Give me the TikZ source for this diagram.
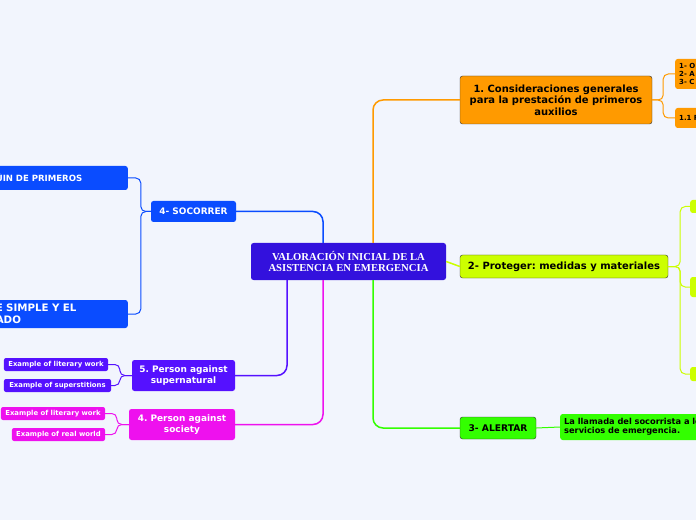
\documentclass[tikz,border=0pt]{standalone}
\usepackage{fontspec}
\setmainfont{DejaVu Sans}
\newfontfamily\rootfont{Liberation Serif}
\usepackage{tikz}
\frenchspacing

\definecolor{bgcol}{HTML}{F2F5FD}
\definecolor{rootcol}{HTML}{3311DD}
\definecolor{orangecol}{HTML}{FF9A00}
\definecolor{limecol}{HTML}{CCFF00}
\definecolor{greencol}{HTML}{33FF00}
\definecolor{bluecol}{HTML}{0A4CFF}
\definecolor{purplecol}{HTML}{5511FF}
\definecolor{magentacol}{HTML}{EE11EE}
\definecolor{edgecol}{HTML}{333333}

\begin{document}
\begin{tikzpicture}[x=1bp, y=-1bp,
		topic/.style={rectangle, rounded corners=2.5bp, inner sep=2bp, align=center, font=\bfseries\fontsize{10}{12}\selectfont},
		leaf/.style={rectangle, rounded corners=2bp, inner sep=1bp, text=white, font=\bfseries\fontsize{6.9}{8}\selectfont},
		branch/.style={line width=1.5bp, rounded corners=10bp},
		twig/.style={line width=1bp, rounded corners=5bp}]
		\useasboundingbox[fill=bgcol] (0,0) rectangle (696,520);
		\clip (0,0) rectangle (696,520);

		% Root
		\node (root) [topic, fill=rootcol, text=white, minimum width=195bp, minimum height=37bp, font=\rootfont\bfseries\fontsize{10.7}{11.8}\selectfont] at (348.5,261.5) {VALORACIÓN INICIAL DE LA\\ASISTENCIA EN EMERGENCIA};

		% Right side
		\node (cons) [topic, draw=edgecol, fill=orangecol, minimum width=192bp, minimum height=48bp, text width=184bp, font=\bfseries\fontsize{10}{11.5}\selectfont] at (556,100) {1. Consideraciones generales\\para la prestación de primeros\\auxilios};
		\node (cons1) [topic, fill=orangecol, anchor=west, minimum height=30bp, text width=56bp, align=left, inner xsep=4bp, font=\bfseries\fontsize{7}{8}\selectfont] at (675,74) {1- O\\2- A\\3- C};
		\node (cons2) [topic, fill=orangecol, anchor=west, minimum height=20bp, text width=56bp, align=left, inner xsep=4bp, font=\bfseries\fontsize{7}{8}\selectfont] at (675,118) {1.1 F};

		\node (prot) [topic, draw=edgecol, fill=limecol, minimum width=208bp, minimum height=23bp, font=\bfseries\fontsize{10}{12}\selectfont] at (564,266.5) {2- Proteger: medidas y materiales};
		\node (prot1) [topic, fill=limecol, anchor=west, minimum width=30bp, minimum height=13bp] at (690,206.5) {};
		\node (prot2) [topic, fill=limecol, anchor=west, minimum width=30bp, minimum height=20bp] at (690,287) {};
		\node (prot3) [topic, fill=limecol, anchor=west, minimum width=30bp, minimum height=14bp] at (690,374) {};

		\node (alert) [topic, draw=edgecol, fill=greencol, minimum width=76bp, minimum height=22bp, font=\bfseries\fontsize{9.2}{11}\selectfont] at (498,428) {3- ALERTAR};
		\node (call) [topic, fill=greencol, anchor=west, minimum width=150bp, minimum height=26bp, text width=142bp, align=left, inner xsep=4bp, font=\bfseries\fontsize{8.3}{9.5}\selectfont] at (560,427) {La llamada del socorrista a los\\servicios de emergencia.};

		% Left side
		\node (help) [topic, fill=bluecol, text=white, minimum width=85bp, minimum height=21bp, font=\bfseries\fontsize{9}{11}\selectfont] at (193.5,211.5) {4- SOCORRER};
		\node (help1) [topic, fill=bluecol, text=white, anchor=east, minimum width=140bp, minimum height=24bp, text width=124bp, align=left, inner xsep=8bp, font=\bfseries\fontsize{8.6}{10}\selectfont] at (128,178) {ÚIN DE PRIMEROS\\[6bp]};
		\node (help2) [topic, fill=bluecol, text=white, anchor=east, minimum width=140bp, minimum height=28bp, text width=124bp, align=left, inner xsep=8bp, font=\bfseries\fontsize{10.3}{12}\selectfont] at (128,314) {E SIMPLE Y EL\\ADO};

		\node (super) [topic, fill=purplecol, text=white, minimum width=103bp, minimum height=31bp, font=\bfseries\fontsize{9}{11}\selectfont] at (183.5,375.5) {5. Person against\\supernatural};
		\node (super1) [leaf, fill=purplecol, minimum width=104bp, minimum height=13bp] at (56,364.5) {Example of literary work};
		\node (super2) [leaf, fill=purplecol, minimum width=107bp, minimum height=13bp] at (57.5,385.5) {Example of superstitions};

		\node (soc) [topic, fill=magentacol, text=white, minimum width=106bp, minimum height=31bp, font=\bfseries\fontsize{9}{11}\selectfont] at (182,424.5) {4. Person against\\society};
		\node (soc1) [leaf, fill=magentacol, minimum width=104bp, minimum height=13bp] at (53,413.5) {Example of literary work};
		\node (soc2) [leaf, fill=magentacol, minimum width=93bp, minimum height=13bp] at (58.5,434.5) {Example of real world};

		% Branches
		\draw[branch, orangecol] ([xshift=24.5bp]root.north) |- (cons.west);
		\draw[branch, bluecol] ([xshift=-25.5bp]root.north) |- (help.east);
		\draw[branch, limecol] (root.east) -- (prot.west);
		\draw[branch, greencol] ([xshift=24.5bp]root.south) |- (alert.west);
		\draw[branch, purplecol] ([xshift=-61.5bp]root.south) |- (super.east);
		\draw[branch, magentacol] ([xshift=-25.5bp]root.south) |- (soc.east);

		% Twigs
		\draw[twig, orangecol] (cons.east) -- ++(11,0) |- (cons1.west);
		\draw[twig, orangecol] (cons.east) -- ++(11,0) |- (cons2.west);
		\draw[twig, limecol] (prot.east) -- ++(12,0) |- (prot1.west);
		\draw[twig, limecol] (prot.east) -- ++(12,0) |- (prot2.west);
		\draw[twig, limecol] (prot.east) -- ++(12,0) |- (prot3.west);
		\draw[twig, greencol] (alert.east) -- (call.west);
		\draw[twig, bluecol] (help.west) -- ++(-10,0) |- (help1.east);
		\draw[twig, bluecol] (help.west) -- ++(-10,0) |- (help2.east);
		\draw[twig, purplecol] (super.west) -- ++(-12,0) |- (super1.east);
		\draw[twig, purplecol] (super.west) -- ++(-12,0) |- (super2.east);
		\draw[twig, magentacol] (soc.west) -- ++(-12,0) |- (soc1.east);
		\draw[twig, magentacol] (soc.west) -- ++(-12,0) |- (soc2.east);
	\end{tikzpicture}
\end{document}
